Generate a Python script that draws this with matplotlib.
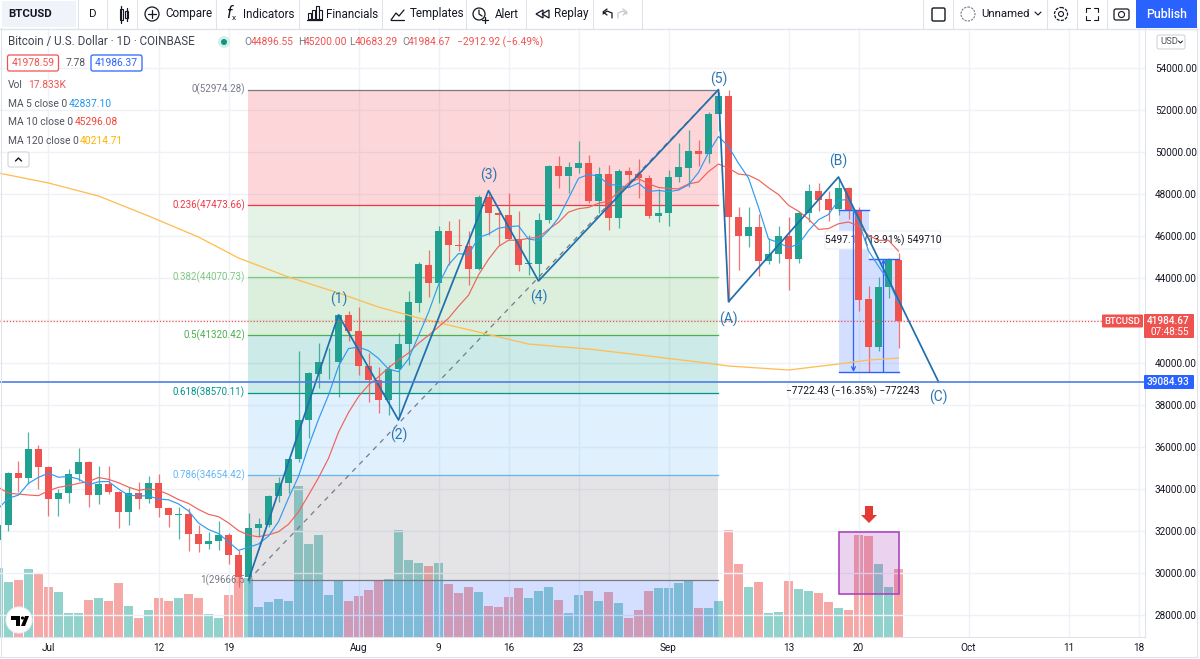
#%%
import numpy as np
import matplotlib
matplotlib.use('Agg')
import matplotlib.pyplot as plt
from matplotlib.patches import Rectangle, Circle, FancyBboxPatch, Polygon

plt.rcParams['font.family'] = ['Roboto', 'DejaVu Sans']

# days counted from 1 Jul 2021, one candle per day
days = np.arange(-5, 86)
opens = [31590, 32280, 34735, 34500, 35890, 35050, 33515, 33815, 34690, 35270, 33705, 34230, 33860, 32900, 33800,
         33530, 34260, 33070, 32740, 32820, 31850, 31390, 31530, 31790, 30840, 29825, 32150, 32280, 33660, 34275,
         35420, 37270, 39460, 40012, 40045, 42260, 41486, 39854, 39173, 38210, 39710, 40880, 42850, 44640, 43800,
         46270, 45600, 45540, 44430, 47855, 47110, 47000, 45870, 44685, 44690, 46777, 49360, 48870, 49265, 49490,
         47695, 48980, 46856, 49105, 48950, 48790, 46980, 47110, 48820, 49265, 50040, 49930, 51800, 52685, 46900,
         46030, 46430, 44845, 45160, 46015, 44925, 47110, 48140, 47760, 47285, 48315, 47250, 43020, 40725, 43595,
         44896.55]
highs = [32750, 34780, 35320, 36680, 36080, 35100, 33975, 34940, 35955, 35320, 35100, 35100, 33900, 34100, 34310,
         34620, 34700, 33120, 33120, 33070, 32280, 31950, 32450, 31915, 31090, 32830, 32610, 33700, 34580, 35450,
         40550, 39570, 40915, 40680, 42300, 42470, 42630, 40470, 39775, 39885, 41420, 43420, 44800, 45350, 46490,
         46730, 46810, 46270, 47960, 48170, 47330, 48075, 47220, 46060, 47090, 49400, 49820, 49550, 50530, 49865,
         49280, 49390, 49185, 49310, 49675, 48915, 48235, 49150, 50420, 51050, 50580, 51900, 52875, 52955, 47380,
         47410, 47050, 45905, 46490, 46900, 47220, 48490, 48520, 48170, 48790, 48360, 47380, 43640, 44055, 44950,
         45200.00]
lows = [31000, 32010, 33860, 34230, 33990, 32710, 32710, 33340, 34385, 33150, 33280, 33750, 32120, 32260, 33020,
        33310, 32680, 32200, 31600, 31060, 31010, 31150, 31090, 30430, 29320, 29510, 31690, 32200, 33390, 33815,
        35250, 36400, 38780, 39200, 38350, 41040, 39410, 38140, 37620, 37510, 37350, 39885, 42420, 43100, 42815,
        44640, 45320, 43690, 44380, 46060, 45590, 45830, 44370, 44160, 43930, 46620, 48280, 48080, 49000, 47570,
        47090, 46300, 46380, 48330, 47810, 46860, 46700, 46510, 48600, 48360, 49345, 49470, 51020, 42890, 44400,
        45510, 44115, 44690, 44750, 43450, 44720, 46700, 47220, 46745, 47015, 46810, 42470, 39570, 40570, 43055,
        40683.29]
closes = [32280, 34735, 34500, 35890, 35050, 33520, 33785, 34690, 35270, 33690, 34230, 33860, 32900, 33800, 33515,
          34260, 33070, 32740, 32820, 31850, 31390, 31520, 31790, 30840, 29825, 32120, 32310, 33660, 34275, 35420,
          37270, 39490, 40045, 40045, 42260, 41486, 39854, 39173, 38210, 39710, 40880, 42880, 44670, 43800, 46270,
          45600, 45555, 44430, 47855, 47110, 47000, 45870, 44640, 44720, 46780, 49360, 48870, 49280, 49500, 47695,
          48980, 46856, 49105, 48915, 48790, 46980, 47110, 48820, 49280, 50040, 49930, 51800, 52685, 46900, 46030,
          46430, 44845, 45160, 46015, 44925, 47110, 48140, 47745, 47270, 48315, 47250, 42990, 40725, 43595, 44925,
          41984.67]
volume = [18.3, 14.5, 14.9, 17.8, 16.7, 13.2, 11.8, 6.3, 6.3, 9.7, 10.4, 9.6, 14.2, 8.3, 5.1, 7.1, 10.2, 9.6, 10.4,
          11.4, 10.2, 6.0, 5.1, 11.2, 15.8, 15.6, 7.8, 9.1, 9.9, 9.6, 39.9, 24.6, 27.0, 11.2, 14.9, 9.4, 10.8, 12.4,
          15.0, 15.2, 28.3, 20.4, 19.6, 18.7, 19.6, 13.9, 11.6, 13.3, 11.8, 8.1, 7.9, 10.5, 12.8, 10.4, 12.0, 13.3,
          9.7, 6.2, 11.0, 12.2, 9.4, 11.8, 8.9, 5.1, 7.1, 12.2, 13.0, 13.0, 14.1, 14.7, 7.7, 7.7, 9.6, 28.3, 19.3,
          13.3, 14.4, 6.2, 6.5, 14.7, 12.6, 12.2, 11.5, 9.1, 7.6, 7.1, 27.0, 26.5, 19.3, 13.3, 17.833]
ma5 = [33070, 33550, 33700, 34260, 34545, 34739, 34549, 34587, 34463, 34191, 34333, 34348, 33990, 33696, 33661,
       33667, 33509, 33477, 33281, 32948, 32374, 32064, 31874, 31478, 31073, 31219, 31377, 31751, 32438, 33557,
       34587, 36023, 37300, 38454, 39822, 40665, 40738, 40564, 40197, 39687, 39565, 40171, 41270, 42388, 43700,
       44644, 45179, 45131, 45942, 46110, 46390, 46453, 46495, 45868, 45802, 46274, 46874, 47802, 48758, 48941,
       48865, 48462, 48427, 48310, 48529, 48129, 48180, 48123, 48196, 48446, 49036, 49974, 50747, 50271, 49469,
       48769, 47378, 45873, 45696, 45475, 45611, 46270, 46787, 47038, 47716, 47744, 46714, 45310, 44575, 43897,
       42837.10]
ma10 = [34070, 33785, 33750, 33705, 33675, 33910, 34070, 34150, 34260, 34341, 34536, 34448, 34288, 34079, 33926,
        34000, 33928, 33733, 33488, 33304, 33020, 32786, 32675, 32379, 32010, 31796, 31720, 31812, 31958, 32315,
        32903, 33700, 34525, 35446, 36689, 37626, 38380, 38931, 39325, 39754, 40115, 40454, 40916, 41292, 41693,
        42104, 42674, 43200, 44165, 44905, 45517, 45816, 45813, 45905, 45956, 46332, 46664, 47149, 47313, 47372,
        47570, 47669, 48115, 48535, 48736, 48498, 48322, 48276, 48254, 48489, 48584, 49078, 49436, 49235, 48959,
        48904, 48677, 48311, 47985, 47473, 47191, 46825, 46331, 46368, 46597, 46679, 46493, 46050, 45808, 45808,
        45296.08]
ma120_days = [-5, 0, 5, 10, 15, 19, 24, 29, 33, 37, 43, 48, 54, 60, 65, 68, 74, 79, 82, 85]
ma120 = [49010, 48534, 47916, 46966, 45967, 44970, 44066, 43306, 42640, 42118, 41450, 40880, 40644, 40311, 40026,
         39836, 39646, 39931, 40121, 40214.71]

fib_names = ['0', '0.236', '0.382', '0.5', '0.618', '0.786', '1']
fib_prices = [52974.28, 47473.66, 44070.73, 41320.42, 38570.11, 34654.42, 29666.5]
fib_colors = ['#787b86', '#f23645', '#81c784', '#4caf50', '#009688', '#64b5f6', '#787b86']

wave_days = [20, 29, 35, 44, 49, 67, 68, 79, 89]
wave_prices = [29666, 42260, 37270, 48170, 43880, 52974, 42890, 48820, 39084.93]
wave_names = ['(1)', '(2)', '(3)', '(4)', '(5)', '(A)', '(B)', '(C)']
wave_label_prices = [43010, 36540, 48910, 43110, 53480, 42070, 49550, 38360]

price_ticks = [p for p in range(28000, 54001, 2000)]
date_ticks = [0, 11, 18, 31, 39, 46, 53, 62, 74, 81, 92, 102, 109]
date_labels = ['Jul', '12', '19', 'Aug', '9', '16', '23', 'Sep', '13', '20', 'Oct', '11', '18']

GREEN = '#22a190'
RED = '#ef5350'
BLUE = '#2962ff'
WAVE = '#1f6fae'
DARK = '#131722'
GREY = '#787b86'
LINE = '#e0e3eb'

#%%
fig = plt.figure(figsize=(12, 6.59), dpi=100, facecolor='white')
# chart pane runs from x=0 to 1145 px and y=28 to 637 px
rect = [0, (659 - 637) / 659, 1145 / 1200, 609 / 659]
vol_ax = fig.add_axes(rect, zorder=1)
ax = fig.add_axes(rect, zorder=2)
px = fig.add_axes([0, 0, 1, 1], zorder=3)
px.set_xlim(0, 1200)
px.set_ylim(659, 0)
px.axis('off')
px.patch.set_alpha(0)

ax.set_xlim(-4.85, 109.65)
ax.set_ylim(26956, 55901)
ax.patch.set_alpha(0)
vol_ax.set_xlim(-4.85, 109.65)
vol_ax.set_ylim(0, 160.5)
vol_ax.axis('off')

closes_arr = np.array(closes)
opens_arr = np.array(opens)
cols = np.where(closes_arr >= opens_arr, GREEN, RED)

# volume goes under everything
vol_cols = np.where(closes_arr >= opens_arr, '#26a69a', RED)
vol_ax.bar(days, volume, width=0.86, color=vol_cols, alpha=0.5)

# axis ticks
ax.set_xticks(date_ticks)
ax.set_xticklabels(date_labels)
ax.set_yticks(price_ticks)
ax.set_yticklabels(['' if p == 42000 else '%.2f' % p for p in price_ticks])
ax.yaxis.tick_right()
ax.tick_params(axis='both', length=0, labelsize=7.2, labelcolor=DARK)
ax.tick_params(axis='x', pad=4)
ax.tick_params(axis='y', pad=7)
ax.grid(color='#eff1f6', lw=1)
ax.set_axisbelow(True)
for s in ['top', 'left', 'bottom', 'right']:
    ax.spines[s].set_visible(False)
ax.spines['right'].set_visible(True)
ax.spines['right'].set_color(LINE)
ax.spines['bottom'].set_visible(True)
ax.spines['bottom'].set_color(LINE)

# fib retracement
fib_left, fib_right = 19.95, 66.95
for i in range(len(fib_prices) - 1):
    ax.fill_between([fib_left, fib_right], fib_prices[i], fib_prices[i + 1], color=fib_colors[i + 1], alpha=0.2,
                    lw=0, zorder=1)
ax.fill_between([fib_left, fib_right], fib_prices[-1], 26956, color=BLUE, alpha=0.2, lw=0, zorder=1)
for name, p, c in zip(fib_names, fib_prices, fib_colors):
    ax.plot([fib_left, fib_right], [p, p], color=c, lw=0.9, zorder=1.5)
    ax.text(19.65, p, '%s(%.2f)' % (name, p) if name != '1' else '1(29666.5', color=c, fontsize=7, ha='right',
            va='center', zorder=1.6)
ax.plot([20, 67], [fib_prices[-1], fib_prices[0]], color=GREY, lw=0.9, ls=(0, (4, 4)), zorder=1.7)

# the two price range tools
ax.fill_between([79, 82], 39550, 47250, color=BLUE, alpha=0.2, lw=0, zorder=2)
ax.fill_between([82, 85], 39550, 44925, color=BLUE, alpha=0.2, lw=0, zorder=2)
ax.plot([79, 82], [47250, 47250], color=BLUE, lw=1, zorder=3.5)
ax.plot([79, 85], [39550, 39550], color=BLUE, lw=1, zorder=3.5)
ax.plot([82, 85], [44925, 44925], color=BLUE, lw=1, zorder=3.5)
ax.annotate('', xy=(80.5, 39550), xytext=(80.5, 47250), zorder=3.5,
            arrowprops=dict(arrowstyle='->', color=BLUE, lw=0.9, shrinkA=0, shrinkB=0, mutation_scale=7))
ax.annotate('', xy=(83.5, 44925), xytext=(83.5, 39550), zorder=3.5,
            arrowprops=dict(arrowstyle='->', color=BLUE, lw=0.9, shrinkA=0, shrinkB=0, mutation_scale=7))

# label boxes sit under the candles
for x0, y0, w, h in [(825, 231, 116, 18), (788, 382, 130, 17)]:
    ax.add_patch(FancyBboxPatch((x0, y0), w, h, boxstyle='round,pad=0,rounding_size=2', transform=px.transData,
                                fc='white', ec='#eceef3', lw=0.8, zorder=2.5, clip_on=False))
ax.text(883, 240, '5497.10 (13.91%) 549710', transform=px.transData, fontsize=7.3, color=DARK, ha='center',
        va='center', zorder=2.6)
ax.text(853, 391, '\u22127722.43 (\u221216.35%) \u2212772243', transform=px.transData, fontsize=7.3, color=DARK,
        ha='center', va='center', zorder=2.6)

# candles
ax.vlines(days, lows, highs, colors=cols, lw=0.9, alpha=0.8, zorder=3)
ax.bar(days, closes_arr - opens_arr, bottom=opens_arr, width=0.7, color=cols, zorder=3.1)

# moving averages
ax.plot(ma120_days, ma120, color='#ffbe55', lw=0.95, zorder=4)
ax.plot(days, ma10, color='#f0625a', lw=0.85, zorder=4)
ax.plot(days, ma5, color='#2f9bf0', lw=0.85, zorder=4)

# purple volume box
ax.add_patch(Rectangle((79, 29000), 6, 31946 - 29000, fc='#9c27b0', ec='none', alpha=0.2, zorder=3.2))
ax.add_patch(Rectangle((79, 29000), 6, 31946 - 29000, fc='none', ec='#ab47bc', lw=1.2, zorder=3.3))

# elliott waves
ax.plot(wave_days, wave_prices, color=WAVE, lw=1.25, zorder=5)
for d, p, name in zip(wave_days[1:], wave_label_prices, wave_names):
    ax.text(d, p, name, color='#2b76b0', fontsize=10, ha='center', va='center', zorder=6)

# price lines
ax.axhline(39084.93, color='#4d7fe8', lw=1.2, zorder=5)
ax.plot([-4.85, 105.3], [closes[-1], closes[-1]], color=RED, lw=0.9, ls=(0, (1, 1.5)), zorder=5)

#%% chrome, all in pixel positions
def t(x, y, s, color=DARK, size=8, ha='left', **kw):
    px.text(x, y, s, color=color, fontsize=size, ha=ha, va='center', **kw)

def box(x, y, w, h, fc='white', ec='none', lw=1, r=2, z=2):
    px.add_patch(FancyBboxPatch((x, y), w, h, boxstyle='round,pad=0,rounding_size=%s' % r, fc=fc, ec=ec, lw=lw,
                                zorder=z))

def ln(xs, ys, color=DARK, lw=0.9):
    px.plot(xs, ys, color=color, lw=lw, solid_capstyle='round')

# toolbar
px.add_patch(Rectangle((0, 0), 1200, 28, fc='white', ec='none'))
px.plot([0, 1197], [28.5, 28.5], color=LINE, lw=1)
for x in [78, 107, 137, 216, 299, 382, 466, 526, 593, 642, 923, 953, 1047, 1077, 1107]:
    px.plot([x, x], [0, 28], color=LINE, lw=0.8)
px.add_patch(Rectangle((2, 1), 74, 26, fc='#f0f3fa', ec='none'))
t(8, 14, 'BTCUSD', weight='bold', size=8.2)
t(93, 14, 'D', ha='center', size=8.2)
t(165, 14, 'Compare', size=8.4)
t(243, 14, 'Indicators', size=8.4)
t(326, 14, 'Financials', size=8.4)
t(410, 14, 'Templates', size=8.4)
t(495, 14, 'Alert', size=8.4)
t(554, 14, 'Replay', size=8.4)
t(981, 14, 'Unnamed', size=8.2)
px.add_patch(Rectangle((1136, 0), 61, 28, fc=BLUE, ec='none'))
t(1167, 14, 'Publish', color='white', ha='center', weight='medium', size=8.8)

# toolbar icons
px.add_patch(Rectangle((119.5, 9), 3, 11, fc='white', ec=DARK, lw=0.8))
ln([121, 121], [6, 23])
px.add_patch(Rectangle((125, 11), 3, 7, fc='white', ec=DARK, lw=0.8))
ln([126.5, 126.5], [8, 21])
px.add_patch(Circle((152, 14), 7, fc='white', ec=DARK, lw=0.9))
ln([148, 156], [14, 14])
ln([152, 152], [10, 18])
t(226, 13, 'f', size=12, style='italic')
t(232, 18, 'x', size=6)
for x, h in [(308, 6), (312, 9), (316, 13), (319, 9)]:
    px.add_patch(Rectangle((x, 19 - h), 3, h, fc='white', ec=DARK, lw=0.8))
ln([307, 322], [19.5, 19.5])
ln([391, 396, 399, 404], [20, 13, 16, 10])
ln([391, 404], [20, 20])
px.add_patch(Circle((479, 14), 6, fc='white', ec=DARK, lw=0.9))
ln([479, 479, 482], [10, 14, 16])
ln([485, 485], [17, 23])
ln([482, 488], [20, 20])
px.add_patch(Polygon([[543, 10], [536, 14], [543, 18]], fc='white', ec=DARK, lw=0.9))
px.add_patch(Polygon([[549, 10], [542, 14], [549, 18]], fc='white', ec=DARK, lw=0.9))
ln([603, 607, 612, 612], [14, 11, 13, 18])
ln([607, 603, 607], [9, 12, 15])
ln([627, 623, 618, 618], [14, 11, 13, 18], color='#c6c8cf')
ln([623, 627, 623], [9, 12, 15], color='#c6c8cf')
box(932, 8, 13, 13, ec=DARK, lw=1, r=1.5)
px.add_patch(Circle((968, 14), 7, fc='white', ec=GREY, lw=0.8, ls=(0, (2, 1))))
ln([1035, 1038, 1041], [12, 15, 12], lw=0.8)
px.add_patch(Circle((1061, 14), 6.5, fc='white', ec=DARK, lw=0.9, ls=(0, (2.5, 1))))
px.add_patch(Circle((1061, 14), 2.5, fc='white', ec=DARK, lw=0.8))
for sx, sy in [(1086, 8), (1098, 8), (1086, 20), (1098, 20)]:
    dx = 4 if sx < 1090 else -4
    dy = 4 if sy < 14 else -4
    ln([sx + dx, sx, sx], [sy, sy, sy + dy], lw=0.8)
box(1114, 9, 15, 11, ec=DARK, lw=0.9, r=2)
px.add_patch(Circle((1121.5, 14.5), 3, fc='white', ec=DARK, lw=0.8, zorder=3))

# legend block, top left
t(8, 42, 'Bitcoin / U.S. Dollar \u00b7 1D \u00b7 COINBASE', color='#3d4150', size=8.4)
px.add_patch(Circle((224, 42), 6, fc='#d5eeea', ec='none'))
px.add_patch(Circle((224, 42), 3, fc='#089981', ec='none'))
for x, s, c in [(244, 'O', GREY), (251, '44896.55', RED), (298, 'H', GREY), (304, '45200.00', RED),
                (349, 'L', GREY), (355, '40683.29', RED), (402, 'C', GREY), (408, '41984.67', RED),
                (457, '\u22122912.92 (\u22126.49%)', RED)]:
    t(x, 42, s, color=c, size=7.4)
box(7.5, 55, 51, 16, ec=RED, lw=0.9)
t(33, 63, '41978.59', color=RED, size=7.4, ha='center')
t(66, 62.5, '7.78', color='#50535e', size=7.4)
box(91, 55, 51, 16, ec=BLUE, lw=0.9)
t(116.5, 63, '41986.37', color=BLUE, size=7.4, ha='center')
t(8, 85, 'Vol', color='#50535e', size=7.4)
t(28, 85, '17.833K', color=RED, size=7.4)
for y, name, x, val, c in [(104, 'MA 5 close 0', 69, '42837.10', '#2196f3'),
                           (122, 'MA 10 close 0', 75, '45296.08', '#f44336'),
                           (141, 'MA 120 close 0', 80, '40214.71', '#ffb300')]:
    t(8, y, name, color='#50535e', size=7.4)
    t(x, y, val, color=c, size=7.4)
box(8, 152, 21, 15, ec='#d1d4dc', lw=0.8)
ln([15.5, 18.5, 21.5], [161, 158, 161], lw=1)

# price axis pieces
box(1157, 35, 28, 14, ec='#d1d4dc', lw=0.8)
t(1160, 42, 'USD', size=6.8, color='#50535e')
ln([1178.5, 1180.5, 1182.5], [41, 43, 41], lw=0.7)
px.plot([1197, 1197], [28, 657], color=LINE, lw=0.8)
px.plot([0, 1197], [656.7, 656.7], color=LINE, lw=0.8)
px.plot([0.5, 0.5], [28, 657], color=LINE, lw=0.8)
box(1102, 314.5, 41, 13, fc=RED, r=1)
t(1122.5, 321, 'BTCUSD', color='white', size=6.8, ha='center', weight='medium')
box(1144, 314, 50, 24, fc=RED, r=1)
t(1189, 321, '41984.67', color='white', size=7.2, ha='right', weight='medium')
t(1189, 332, '07:48:55', color='white', size=7.2, ha='right')
box(1144, 375, 50, 14, fc=BLUE, r=1)
t(1189, 382, '39084.93', color='white', size=7.2, ha='right', weight='medium')

# red arrow over the volume box
px.add_patch(Polygon([[865, 506], [873, 506], [873, 515], [877, 515], [869, 523], [861, 515], [865, 515]],
                     fc='#e53935', ec='none'))

# logo
px.add_patch(Circle((19, 620), 13, fc='white', ec='#eef0f4', lw=0.8))
px.add_patch(Polygon([[11, 616], [20, 616], [20, 626], [16, 626], [16, 620], [11, 620]], fc='black', ec='none'))
px.add_patch(Polygon([[21, 626], [25, 616], [29, 616], [25, 626]], fc='black', ec='none'))
px.add_patch(Circle((22.5, 618), 1.6, fc='black', ec='none'))

fig.savefig('out.png', dpi=100, facecolor='white')
